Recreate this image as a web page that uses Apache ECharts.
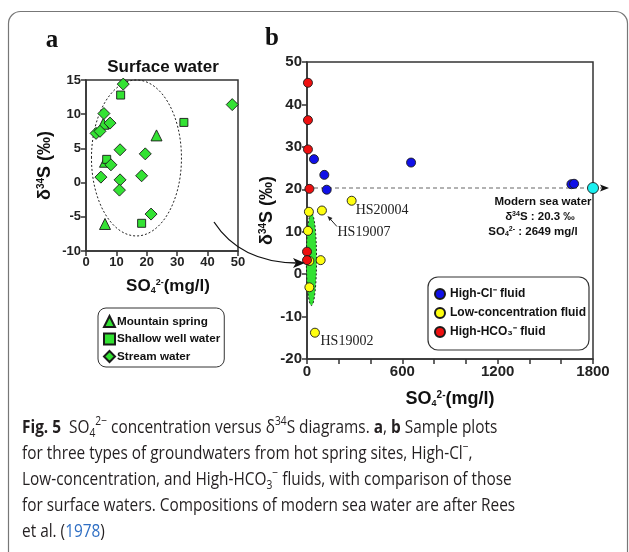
<!DOCTYPE html>
<html>
<head>
<meta charset="utf-8">
<script src="https://cdn.jsdelivr.net/npm/echarts@6/dist/echarts.min.js"></script>
<style>
  html, body { margin: 0; padding: 0; background: #fff; }
  #chart { width: 629px; height: 552px; }
</style>
</head>
<body>
<div id="chart"></div>
<script>
// ---- Panel a: surface waters, points are [SO4 (mg/l), δ34S (‰)] ----
const mountainSpring = [[5.7, 8.6], [6.25, 3.05], [23.2, 6.9], [6.25, -6.05]];
const shallowWell = [[11.4, 12.8], [6.8, 3.4], [32.2, 8.8], [18.3, -5.95]];
const streamWater = [
  [12.25, 14.4], [5.9, 10.1], [7.9, 8.7], [3.3, 7.2], [4.6, 7.5], [11.2, 4.8],
  [8.2, 2.6], [4.9, 0.8], [11.2, 0.4], [11.0, -1.1], [19.5, 4.2], [18.3, 1.0],
  [21.4, -4.6], [48.1, 11.4]
];
// surface-water field: [centre SO4, centre δ34S, half-width, half-height]
const surfaceField = [16.6, 3.6, 14.8, 11.4];

// ---- Panel b: hot spring groundwaters ----
const highCl = [[44, 27.1], [109, 23.4], [124, 19.9], [655, 26.3], [1664, 21.2], [1681, 21.3]];
const lowConc = [[12, 14.7], [94, 15.0], [281, 17.3], [6, 10.2], [15, 3.1], [86, 3.3], [15, -3.1], [50, -13.8]];
const highHCO3 = [[6, 45.1], [6, 36.3], [6, 29.4], [15, 20.1], [0, 5.3], [0, 3.3]];
// sample names attached to low-concentration points (index -> name)
const lowConcNames = { 2: 'HS20004', 1: 'HS19007', 7: 'HS19002' };
// modern sea water (Rees et al. 1978)
const seaSO4 = 2649;
const seaD34S = 20.3;
// surface-water field repeated on the wider scale
const surfaceFieldB = [28, 3.5, 32, 10.9];

// axis ranges / ticks
const xTicksA = { min: 0, max: 50, interval: 10 };
const yTicksA = { min: -10, max: 15, interval: 5 };
const xTicksB = { min: 0, max: 1800, interval: 600 };
const yTicksB = { min: -20, max: 50, interval: 10 };

const SANS = 'Liberation Sans';
const SERIF = 'Liberation Serif';
const AX = '#333';
const GREEN = '#33e233';
const EDGE = '#1a1a1a';

const chart = echarts.init(document.getElementById('chart'), null, { renderer: 'canvas' });

function axisBase(fontSize) {
  return {
    type: 'value',
    axisLine: { show: true, onZero: false, lineStyle: { color: AX, width: 1.5 } },
    axisTick: { show: true, length: 5, lineStyle: { color: AX, width: 1.5 } },
    splitLine: { show: false },
    axisLabel: {
      fontFamily: SANS, fontWeight: 'bold', fontSize: fontSize, color: '#222', margin: 5,
      formatter: function (v) { return String(v); }
    }
  };
}

const nameRich = (size) => ({
  a: { fontFamily: SANS, fontWeight: 'bold', fontSize: size, color: '#111' },
  sub: { fontFamily: SANS, fontWeight: 'bold', fontSize: Math.round(size * 0.5), color: '#111', verticalAlign: 'bottom', lineHeight: size },
  sup: { fontFamily: SANS, fontWeight: 'bold', fontSize: Math.round(size * 0.55), color: '#111', verticalAlign: 'top', lineHeight: size }
});

function ellipseSeries(name, xi, field, fill, dash) {
  return {
    name: name,
    type: 'custom',
    xAxisIndex: xi, yAxisIndex: xi,
    data: [field],
    z: 1,
    silent: true,
    renderItem: function (params, api) {
      const c = api.coord([api.value(0), api.value(1)]);
      const s = api.size([api.value(2), api.value(3)]);
      return {
        type: 'ellipse',
        shape: { cx: c[0], cy: c[1], rx: s[0], ry: s[1] },
        style: { fill: fill, stroke: '#222', lineWidth: 1, lineDash: dash }
      };
    }
  };
}

function scatter(name, xi, data, symbol, size, color) {
  return {
    name: name, type: 'scatter', xAxisIndex: xi, yAxisIndex: xi,
    data: data, symbol: symbol, symbolSize: size, clip: false, z: 3,
    itemStyle: { color: color, borderColor: EDGE, borderWidth: 0.9, opacity: 1 },
    emphasis: { disabled: true }
  };
}

const xMaxB = xTicksB.max;
const seaPoint = [Math.min(seaSO4, xMaxB), seaD34S]; // pinned at the right edge of the axis

// label placement relative to the symbol box (symbol size 9)
const nameLabelPos = { HS20004: [9, 14.5], HS19007: [20.5, 26.5], HS19002: [10.5, 13.5] };
const lowConcData = lowConc.map(function (p, i) {
  const item = { value: p };
  const nm = lowConcNames[i];
  if (nm) {
    item.label = {
      show: true, formatter: nm, position: nameLabelPos[nm], align: 'left', verticalAlign: 'middle',
      fontFamily: SERIF, fontSize: 14, color: '#222'
    };
  }
  return item;
});

const option = {
  animation: false,
  backgroundColor: '#fff',
  grid: [
    { left: 86, top: 80, width: 152, height: 171, show: true, borderColor: AX, borderWidth: 1.5, backgroundColor: 'transparent' },
    { left: 307, top: 62, width: 286, height: 297, show: true, borderColor: AX, borderWidth: 1.5, backgroundColor: 'transparent' }
  ],
  xAxis: [
    Object.assign(axisBase(13), xTicksA, {
      gridIndex: 0,
      name: '{a|SO}{sub|4}{sup|2-}{a|(mg/l)}', nameLocation: 'middle', nameGap: 27,
      nameTextStyle: { rich: nameRich(17), padding: [0, 0, 0, 12] }
    }),
    Object.assign(axisBase(15), xTicksB, {
      gridIndex: 1,
      minorTick: { show: true, splitNumber: 3, length: 5, lineStyle: { color: AX, width: 1.5 } },
      name: '{a|SO}{sub|4}{sup|2-}{a|(mg/l)}', nameLocation: 'middle', nameGap: 31,
      nameTextStyle: { rich: nameRich(18) }
    })
  ],
  yAxis: [
    Object.assign(axisBase(13), yTicksA, {
      gridIndex: 0,
      name: '{a|δ}{sup|34}{a|S (‰)}', nameLocation: 'middle', nameGap: 32, nameRotate: 90,
      nameTextStyle: { rich: nameRich(18) }
    }),
    Object.assign(axisBase(15), yTicksB, {
      gridIndex: 1,
      name: '{a|δ}{sup|34}{a|S (‰)}', nameLocation: 'middle', nameGap: 29, nameRotate: 90,
      nameTextStyle: { rich: nameRich(18) }
    })
  ],
  legend: [
    {
      left: 98, top: 308, orient: 'vertical', selectedMode: false,
      data: ['Mountain spring', 'Shallow well water', 'Stream water'],
      borderColor: AX, borderWidth: 1, borderRadius: 8, padding: [7, 4, 4, 5],
      itemGap: 4.5, itemWidth: 11, itemHeight: 11,
      textStyle: { fontFamily: SANS, fontWeight: 'bold', fontSize: 11.7, color: '#111', padding: [0, 0, 0, -3] }
    },
    {
      left: 428, top: 277, orient: 'vertical', selectedMode: false,
      data: ['High-Cl⁻ fluid', 'Low-concentration fluid', 'High-HCO₃⁻ fluid'],
      borderColor: AX, borderWidth: 1.2, borderRadius: 10, padding: [11, 3, 12, 6],
      itemGap: 7, itemWidth: 10, itemHeight: 10,
      textStyle: { fontFamily: SANS, fontWeight: 'bold', fontSize: 12, color: '#111' }
    }
  ],
  series: [
    ellipseSeries('surface field a', 0, surfaceField, 'none', [2, 2]),
    scatter('Mountain spring', 0, mountainSpring, 'triangle', 11, GREEN),
    scatter('Shallow well water', 0, shallowWell, 'rect', 8, GREEN),
    scatter('Stream water', 0, streamWater, 'diamond', 12, GREEN),

    ellipseSeries('surface field b', 1, surfaceFieldB, GREEN, [2, 2]),
    {
      name: 'sea water line', type: 'line', xAxisIndex: 1, yAxisIndex: 1,
      data: [[0, seaD34S], seaPoint], symbol: 'none', silent: true, z: 2,
      lineStyle: { color: '#999', width: 1.5, type: [4, 3] }
    },
    scatter('High-Cl⁻ fluid', 1, highCl, 'circle', 9, '#1010e8'),
    Object.assign(scatter('Low-concentration fluid', 1, lowConcData, 'circle', 9, '#ffff10'), { labelLayout: { hideOverlap: false } }),
    scatter('High-HCO₃⁻ fluid', 1, highHCO3, 'circle', 9, '#ee1010'),
    scatter('Modern sea water', 1, [seaPoint], 'circle', 11, '#19f0f0')
  ]
};

chart.setOption(option);

// ---- annotations that follow the axes ----
const seaPx = chart.convertToPixel({ gridIndex: 1 }, seaPoint);
const hsPx = chart.convertToPixel({ gridIndex: 1 }, lowConc[1]);

const captionFont = 'Open Sans';
const capRich = {
  b: { fontFamily: captionFont, fontWeight: 'bold', fontSize: 18, fill: '#231f20' },
  sup: { fontFamily: captionFont, fontSize: 12, fill: '#231f20', verticalAlign: 'top', lineHeight: 12 },
  sub: { fontFamily: captionFont, fontSize: 12, fill: '#231f20', verticalAlign: 'bottom', lineHeight: 12 },
  link: { fontFamily: captionFont, fontSize: 18, fill: '#2f6fc4' }
};
const captionLines = [
  '{b|Fig. 5}  SO{sub|4}{sup|2−} concentration versus δ{sup|34}S diagrams. {b|a}, {b|b} Sample plots',
  'for three types of groundwaters from hot spring sites, High-Cl{sup|−},',
  'Low-concentration, and High-HCO{sub|3}{sup|−} fluids, with comparison of those',
  'for surface waters. Compositions of modern sea water are after Rees',
  'et al. ({link|1978})'
];
const captionY = [428, 454, 480, 506, 532];

const seaRich = {
  t: { fontFamily: SANS, fontWeight: 'bold', fontSize: 11.5, fill: '#111' },
  s: { fontFamily: SANS, fontWeight: 'bold', fontSize: 7, fill: '#111', verticalAlign: 'top', lineHeight: 12 },
  d: { fontFamily: SANS, fontWeight: 'bold', fontSize: 7, fill: '#111', verticalAlign: 'bottom', lineHeight: 12 }
};

const graphics = [
  // figure frame
  { type: 'rect', shape: { x: 8.5, y: 11.5, width: 619, height: 600, r: 12 }, style: { fill: 'none', stroke: '#777', lineWidth: 1.2 }, z: 0 },
  // panel letters and title
  { type: 'text', x: 52, y: 41, style: { text: 'a', font: 'bold 25px ' + SERIF, fill: '#111', align: 'center', verticalAlign: 'middle' } },
  { type: 'text', x: 272, y: 39, style: { text: 'b', font: 'bold 25px ' + SERIF, fill: '#111', align: 'center', verticalAlign: 'middle' } },
  { type: 'text', x: 163, y: 67, style: { text: 'Surface water', font: 'bold 17px ' + SANS, fill: '#111', align: 'center', verticalAlign: 'middle' } },
  // sea water arrow beyond the frame
  { type: 'line', shape: { x1: seaPx[0], y1: seaPx[1], x2: seaPx[0] + 9, y2: seaPx[1] }, style: { stroke: '#999', lineWidth: 1.5, lineDash: [4, 3] }, z: 2 },
  { type: 'polygon', shape: { points: [[seaPx[0] + 16, seaPx[1]], [seaPx[0] + 7, seaPx[1] - 3.5], [seaPx[0] + 9, seaPx[1]], [seaPx[0] + 7, seaPx[1] + 3.5]] }, style: { fill: '#111' }, z: 2 },
  // sea water annotation
  { type: 'text', x: 543, y: 202, style: { text: '{t|Modern sea water}', rich: seaRich, align: 'center', verticalAlign: 'middle' } },
  { type: 'text', x: 540, y: 217, style: { text: '{t|δ}{s|34}{t|S : ' + seaD34S + ' ‰}', rich: seaRich, align: 'center', verticalAlign: 'middle' } },
  { type: 'text', x: 533, y: 232, style: { text: '{t|SO}{d|4}{s|2-}{t| : ' + seaSO4 + ' mg/l}', rich: seaRich, align: 'center', verticalAlign: 'middle' } },
  // pointer to HS19007
  { type: 'line', shape: { x1: hsPx[0] + 15, y1: hsPx[1] + 16, x2: hsPx[0] + 7, y2: hsPx[1] + 7 }, style: { stroke: '#222', lineWidth: 1 } },
  { type: 'polygon', shape: { points: [[hsPx[0] + 5.5, hsPx[1] + 5.5], [hsPx[0] + 10.5, hsPx[1] + 7.5], [hsPx[0] + 7.5, hsPx[1] + 10.5]] }, style: { fill: '#222' } },
  // curved arrow linking the two panels
  { type: 'bezierCurve', shape: { x1: 214, y1: 222, cpx1: 240, cpy1: 262, x2: 296, y2: 263 }, style: { fill: 'none', stroke: '#111', lineWidth: 1.3 }, z: 5 },
  { type: 'polygon', shape: { points: [[305, 263], [293, 258], [296, 263], [293, 268]] }, style: { fill: '#111' }, z: 5 }
];

captionLines.forEach(function (line, i) {
  graphics.push({
    type: 'text', x: 22, y: captionY[i], scaleX: 0.855,
    style: {
      text: line, rich: capRich, fontFamily: captionFont, fontSize: 18, fill: '#231f20',
      lineHeight: 24, align: 'left', verticalAlign: 'middle'
    }
  });
});

chart.setOption({ graphic: graphics });
</script>
</body>
</html>
